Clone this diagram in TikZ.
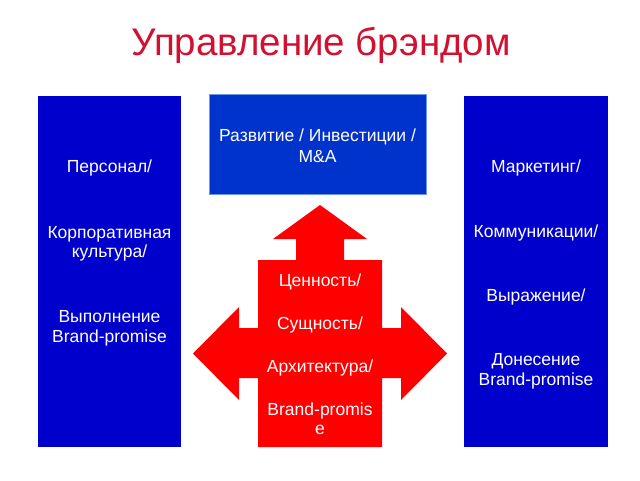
\documentclass[tikz,border=0pt]{standalone}
\usepackage{fontspec}
\setmainfont{Liberation Sans}
\definecolor{boxblue}{RGB}{0,0,204}
\definecolor{topblue}{RGB}{0,51,204}
\definecolor{topedge}{RGB}{110,150,230}
\definecolor{crossred}{RGB}{255,0,0}
\definecolor{titlered}{RGB}{210,16,48}
\tikzset{
  sidebox/.style={fill=boxblue, draw=none},
  txt/.style={text=white, anchor=base, inner sep=0pt, font=\fontsize{17.5}{21}\selectfont},
}
\begin{document}
\begin{tikzpicture}[x=1pt,y=-1pt]
\useasboundingbox (0,0) rectangle (640,480);
\fill[white] (0,0) rectangle (640,480);
% title
\node[text=titlered, anchor=base, inner sep=0pt, font=\fontsize{38.5}{42}\selectfont] (title) at (321,55) {Управление брэндом};
% boxes
\path[sidebox] (38,96) rectangle (181,447);
\path[sidebox] (464,96) rectangle (608,447);
\path[fill=topblue, draw=topedge, line width=0.6pt] (209,94) rectangle (426,194);
% red cross
\fill[crossred] (320,205) -- (367,239) -- (344,239) -- (344,260) -- (382,260) -- (382,328)
  -- (401,328) -- (401,307) -- (447,353.5) -- (401,400) -- (401,378) -- (382,378)
  -- (382,447) -- (258,447) -- (258,378) -- (239,378) -- (239,400) -- (193,353.5)
  -- (239,307) -- (239,328) -- (258,328) -- (258,260) -- (296,260) -- (296,239)
  -- (273,239) -- cycle;
% left texts
\node[txt] (l1) at (109.5,172) {Персонал/};
\node[txt] (l2) at (109.5,238) {Корпоративная};
\node[txt] (l3) at (109.5,257) {культура/};
\node[txt] (l4) at (109.5,322) {Выполнение};
\node[txt] (l5) at (109.5,342) {Brand-promise};
% right texts
\node[txt] (r1) at (536,172) {Маркетинг/};
\node[txt] (r2) at (536,237) {Коммуникации/};
\node[txt] (r3) at (536,301) {Выражение/};
\node[txt] (r4) at (536,365) {Донесение};
\node[txt] (r5) at (536,385) {Brand-promise};
% top texts
\node[txt] (t1) at (317.5,141) {Развитие / Инвестиции /};
\node[txt] (t2) at (317.5,162) {M\&A};
% center texts
\node[txt] (c1) at (320,286) {Ценность/};
\node[txt] (c2) at (320,329) {Сущность/};
\node[txt] (c3) at (320,372) {Архитектура/};
\node[txt] (c4) at (320,415) {Brand-promis};
\node[txt] (c5) at (320,434) {e};
\end{tikzpicture}
\end{document}
